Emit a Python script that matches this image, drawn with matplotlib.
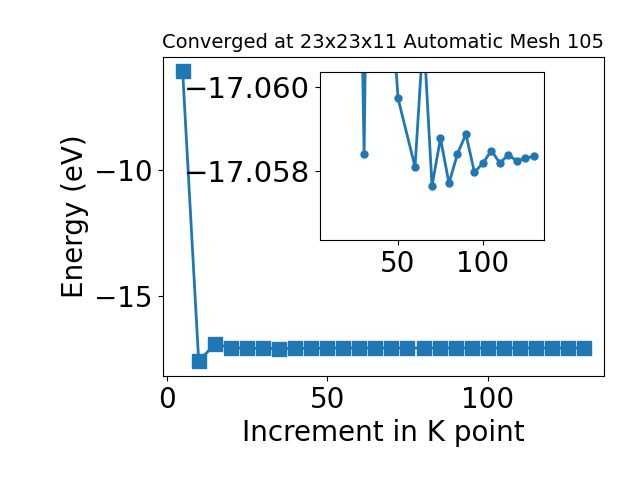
import numpy as np
import matplotlib
matplotlib.use("Agg")
import matplotlib.pyplot as plt

plt.rcParams["font.size"] = 20

kpoints = [5, 10, 15, 20, 25, 30, 35, 40, 45, 50, 55, 60, 65,
           70, 75, 80, 85, 90, 95, 100, 105, 110, 115, 120, 125, 130]
energy = [-6.1, -17.58, -16.9, -17.04, -17.07, -17.05839, -17.075, -17.065,
          -17.0627, -17.05972, -17.06, -17.05809, -17.0613, -17.05764,
          -17.05877, -17.0577, -17.0584, -17.05887, -17.05796, -17.05818,
          -17.05848, -17.05818, -17.05838, -17.05823, -17.0583, -17.05834]

# zoomed view
kpoints_zoom = [25, 30, 35, 40, 45, 50, 60, 65, 70, 75, 80, 85, 90, 95,
                100, 105, 110, 115, 120, 125, 130]
energy_zoom = [-17.07, -17.05839, -17.075, -17.065, -17.0627, -17.05972,
               -17.05809, -17.0613, -17.05764, -17.05877, -17.0577, -17.0584,
               -17.05887, -17.05796, -17.05818, -17.05848, -17.05818,
               -17.05838, -17.05823, -17.0583, -17.05834]
e_conv = -17.05835

fig, ax = plt.subplots(figsize=(6.4, 4.8), dpi=100)
fig.subplots_adjust(left=0.254, right=0.944, top=0.882, bottom=0.217)

ax.plot(kpoints, energy, marker="s", markersize=10, linewidth=2)
ax.set_xlabel("Increment in K point")
ax.set_ylabel("Energy (eV)")
ax.set_title("Converged at 23x23x11 Automatic Mesh 105", fontsize=14)

ins = fig.add_axes([0.5, 0.5, 0.35, 0.35])
ins.plot(kpoints_zoom, energy_zoom, marker="o", markersize=5, linewidth=2)
ins.set_xlim(4, 136)
ins.set_ylim(e_conv + 0.002, e_conv - 0.002)
ins.set_yticks([-17.060, -17.058])
ins.set_xticks([50, 100])
ins.ticklabel_format(axis="y", useOffset=False)
ins.tick_params(axis="y", labelsize=21)

plt.savefig("out.png")
